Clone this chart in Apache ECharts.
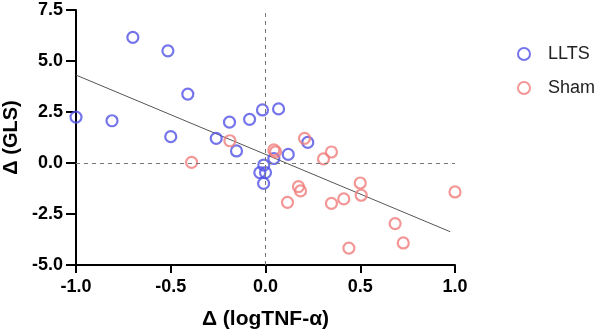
<!DOCTYPE html>
<html><head><meta charset="utf-8">
<script src="https://cdn.jsdelivr.net/npm/echarts@6/dist/echarts.min.js"></script>
<style>html,body{margin:0;padding:0;background:#fff}#c{width:600px;height:331px}</style>
</head><body><div id="c"></div>
<script>
const lltsX = [-1.0,-0.81,-0.70,-0.515,-0.41,-0.50,-0.26,-0.19,-0.153,-0.084,-0.016,0.069,0.12,0.044,0.223,-0.009,-0.03,0.0,-0.01];
const lltsY = [2.25,2.07,6.16,5.5,3.38,1.29,1.21,2.0,0.59,2.14,2.6,2.65,0.42,0.22,1.01,-0.1,-0.47,-0.47,-1.0];
const shamX = [-0.39,-0.188,0.044,0.053,0.206,0.348,0.306,0.50,0.505,0.174,0.185,0.116,0.348,0.413,1.0,0.684,0.727,0.44];
const shamY = [0.03,1.09,0.64,0.55,1.21,0.54,0.2,-0.98,-1.58,-1.16,-1.37,-1.93,-1.98,-1.76,-1.42,-2.97,-3.92,-4.17];
const fitX = [-1.0, 0.975];
const fitY = [4.31, -3.37];
const xTicks = [-1.0,-0.5,0.0,0.5,1.0];
const yTicks = [-5.0,-2.5,0.0,2.5,5.0,7.5];

const zip = (a,b)=>a.map((v,i)=>[v,b[i]]);
const blue = '#5252e6', red = '#f07c7c';
const chart = echarts.init(document.getElementById('c'));
const font = 'Liberation Sans, Arial, sans-serif';
chart.setOption({
  animation:false,
  grid:{left:76,right:145,top:10,bottom:66,containLabel:false,outerBoundsMode:'none'},
  legend:{
    orient:'vertical', left:512, top:40, itemGap:16, itemWidth:12, itemHeight:12,
    textStyle:{fontFamily:font,fontSize:18,color:'#222',padding:[0,0,0,13]},
    data:[{name:'LLTS',icon:'circle'},{name:'Sham',icon:'circle'}]
  },
  xAxis:{
    type:'value', min:xTicks[0], max:xTicks[xTicks.length-1], interval:0.5,
    name:'Δ (logTNF-α)', nameLocation:'middle', nameGap:44,
    nameTextStyle:{fontFamily:font,fontSize:21,fontWeight:'bold',color:'#000'},
    axisLine:{show:true,onZero:false,lineStyle:{color:'#000',width:2}},
    axisTick:{show:true,length:8,lineStyle:{color:'#000',width:2}},
    axisLabel:{fontFamily:font,fontSize:18,fontWeight:'bold',color:'#000',margin:13,formatter:v=>v.toFixed(1)},
    splitLine:{show:false}
  },
  yAxis:{
    type:'value', min:yTicks[0], max:yTicks[yTicks.length-1], interval:2.5,
    name:'Δ (GLS)', nameLocation:'middle', nameGap:54,
    nameTextStyle:{fontFamily:font,fontSize:20,fontWeight:'bold',color:'#000'},
    axisLine:{show:true,onZero:false,lineStyle:{color:'#000',width:2}},
    axisTick:{show:true,length:10,lineStyle:{color:'#000',width:2}},
    axisLabel:{fontFamily:font,fontSize:18,fontWeight:'bold',color:'#000',margin:13,formatter:v=>v.toFixed(1)},
    splitLine:{show:false}
  },
  series:[
    {name:'LLTS',type:'scatter',data:zip(lltsX,lltsY),symbol:'circle',symbolSize:11,
     itemStyle:{color:'transparent',borderColor:blue,borderWidth:2.2},z:3,
     markLine:{silent:true,symbol:'none',label:{show:false},
       lineStyle:{type:[4,4],color:'#777',width:1},
       data:[{xAxis:0},{yAxis:0}]}},
    {name:'Sham',type:'scatter',data:zip(shamX,shamY),symbol:'circle',symbolSize:11,
     itemStyle:{color:'transparent',borderColor:red,borderWidth:2.2},z:3},
    {name:'fit',type:'line',data:zip(fitX,fitY),symbol:'none',silent:true,
     lineStyle:{color:'#555',width:1},z:2}
  ]
});
</script></body></html>
